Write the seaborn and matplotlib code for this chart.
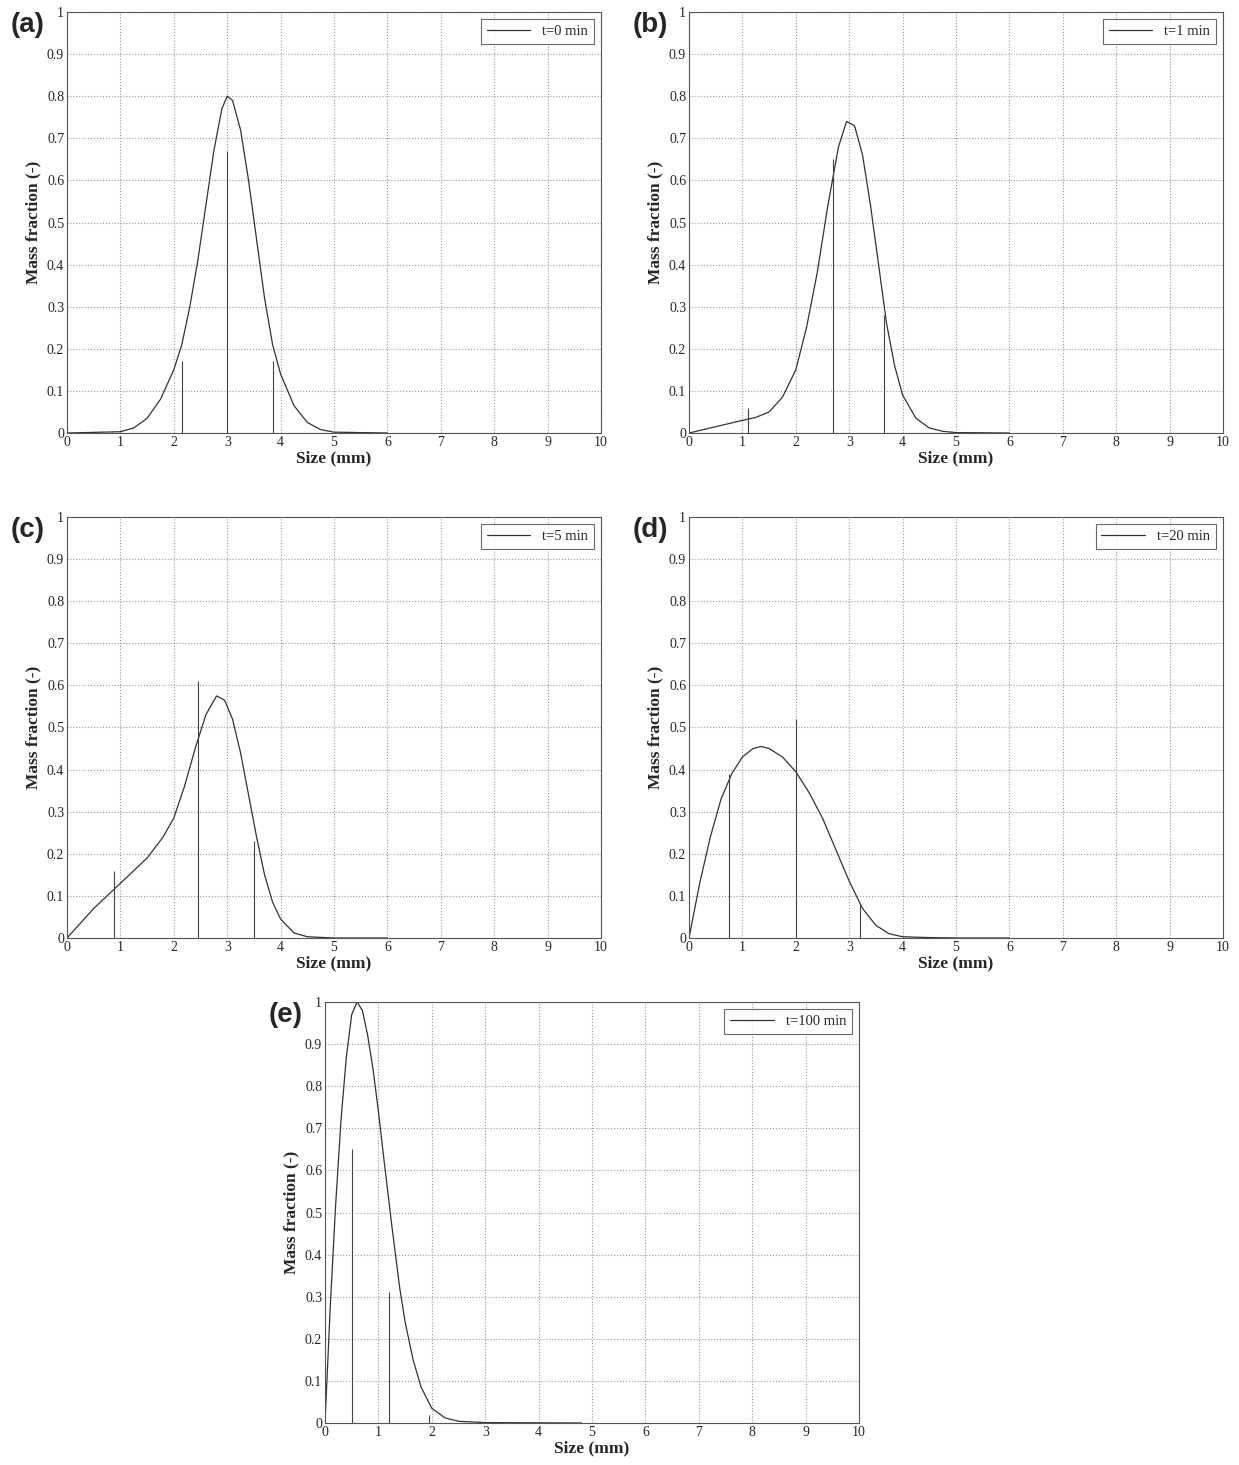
import matplotlib
matplotlib.use("Agg")
import matplotlib.pyplot as plt
import seaborn as sns
import pandas as pd

sns.set_style("white")
plt.rcParams['font.family'] = ['Liberation Serif', 'DejaVu Serif']

labels = ["(a)", "(b)", "(c)", "(d)", "(e)"]
legends = ["t=0 min", "t=1 min", "t=5 min", "t=20 min", "t=100 min"]

a_x = [0, 1, 1.25, 1.5, 1.75, 2, 2.15, 2.3, 2.45, 2.6, 2.75, 2.9, 3, 3.1, 3.25, 3.4, 3.55, 3.7, 3.85, 4, 4.25, 4.5, 4.75, 5, 6]
a_y = [0, 0.003, 0.012, 0.035, 0.08, 0.15, 0.21, 0.3, 0.41, 0.54, 0.67, 0.77, 0.8, 0.79, 0.72, 0.6, 0.46, 0.32, 0.21, 0.14, 0.065, 0.025, 0.008, 0.002, 0]
a_sx = [2.15, 3.0, 3.85]
a_sy = [0.17, 0.67, 0.17]

b_x = [0, 0.5, 1, 1.25, 1.5, 1.75, 2, 2.2, 2.4, 2.6, 2.8, 2.95, 3.1, 3.25, 3.4, 3.55, 3.7, 3.85, 4, 4.25, 4.5, 4.75, 5, 6]
b_y = [0, 0.015, 0.03, 0.037, 0.05, 0.085, 0.15, 0.25, 0.38, 0.54, 0.68, 0.74, 0.73, 0.66, 0.54, 0.4, 0.26, 0.16, 0.09, 0.035, 0.012, 0.004, 0.001, 0]
b_sx = [1.1, 2.7, 3.65]
b_sy = [0.06, 0.65, 0.28]

c_x = [0, 0.5, 1, 1.5, 1.8, 2.0, 2.2, 2.4, 2.6, 2.8, 2.95, 3.1, 3.25, 3.4, 3.55, 3.7, 3.85, 4, 4.25, 4.5, 5, 6]
c_y = [0, 0.07, 0.13, 0.19, 0.24, 0.285, 0.36, 0.45, 0.53, 0.575, 0.565, 0.52, 0.44, 0.34, 0.24, 0.15, 0.085, 0.045, 0.012, 0.003, 0, 0]
c_sx = [0.88, 2.45, 3.5]
c_sy = [0.16, 0.61, 0.23]

d_x = [0, 0.2, 0.4, 0.6, 0.8, 1, 1.2, 1.35, 1.5, 1.75, 2, 2.25, 2.5, 2.75, 3, 3.25, 3.5, 3.75, 4, 4.5, 5, 6]
d_y = [0, 0.13, 0.24, 0.33, 0.39, 0.43, 0.45, 0.455, 0.45, 0.43, 0.395, 0.345, 0.285, 0.21, 0.135, 0.07, 0.03, 0.01, 0.003, 0.001, 0, 0]
d_sx = [0.75, 2.0, 3.2]
d_sy = [0.39, 0.52, 0.08]

e_x = [0, 0.1, 0.2, 0.3, 0.4, 0.5, 0.6, 0.7, 0.8, 0.9, 1, 1.1, 1.25, 1.4, 1.5, 1.65, 1.8, 2, 2.25, 2.5, 3, 4.8]
e_y = [0, 0.28, 0.52, 0.72, 0.87, 0.97, 1.0, 0.98, 0.92, 0.84, 0.74, 0.63, 0.47, 0.32, 0.24, 0.15, 0.085, 0.035, 0.012, 0.004, 0.001, 0]
e_sx = [0.5, 1.2, 1.95]
e_sy = [0.65, 0.31, 0.02]

curves = [(a_x, a_y), (b_x, b_y), (c_x, c_y), (d_x, d_y), (e_x, e_y)]
sticks = [(a_sx, a_sy), (b_sx, b_sy), (c_sx, c_sy), (d_sx, d_sy), (e_sx, e_sy)]

W, H = 1239, 1465
boxes = [(67, 12), (689, 12), (67, 517), (689, 517), (325, 1002)]
aw, ah = 534, 421

fig = plt.figure(figsize=(W / 100, H / 100), dpi=100)
for i in range(5):
    l, t = boxes[i]
    ax = fig.add_axes([l / W, 1 - (t + ah) / H, aw / W, ah / H])
    df = pd.DataFrame({"x": curves[i][0], "y": curves[i][1]})
    sns.lineplot(data=df, x="x", y="y", ax=ax, color="#333333", lw=0.9,
                 label=legends[i], estimator=None, sort=False)
    ax.vlines(sticks[i][0], 0, sticks[i][1], color="#444444", lw=0.8)
    ax.set_xlim(0, 10)
    ax.set_ylim(0, 1)
    ax.set_xticks(range(11))
    ax.set_yticks([k / 10 for k in range(11)])
    ax.set_yticklabels(["0"] + [f"0.{k}" for k in range(1, 10)] + ["1"])
    ax.grid(True, linestyle=":", color="#999999", lw=0.8)
    ax.tick_params(labelsize=10, direction="in", length=3, pad=2)
    ax.set_xlabel("Size (mm)", fontsize=12.5, fontweight="bold", labelpad=1)
    ax.set_ylabel("Mass fraction (-)", fontsize=12.5, fontweight="bold", labelpad=4)
    for s in ax.spines.values():
        s.set_color("#555555")
        s.set_linewidth(0.8)
    leg = ax.legend(loc="upper right", fontsize=10.5, frameon=True, fancybox=False,
                    handlelength=3, borderpad=0.4, edgecolor="#444444")
    leg.get_frame().set_linewidth(0.8)
    ax.text(-0.105, 1.0, labels[i], transform=ax.transAxes, fontsize=20,
            fontweight="bold", family="Liberation Sans", va="top", ha="left")

fig.savefig("out.png", dpi=100)
